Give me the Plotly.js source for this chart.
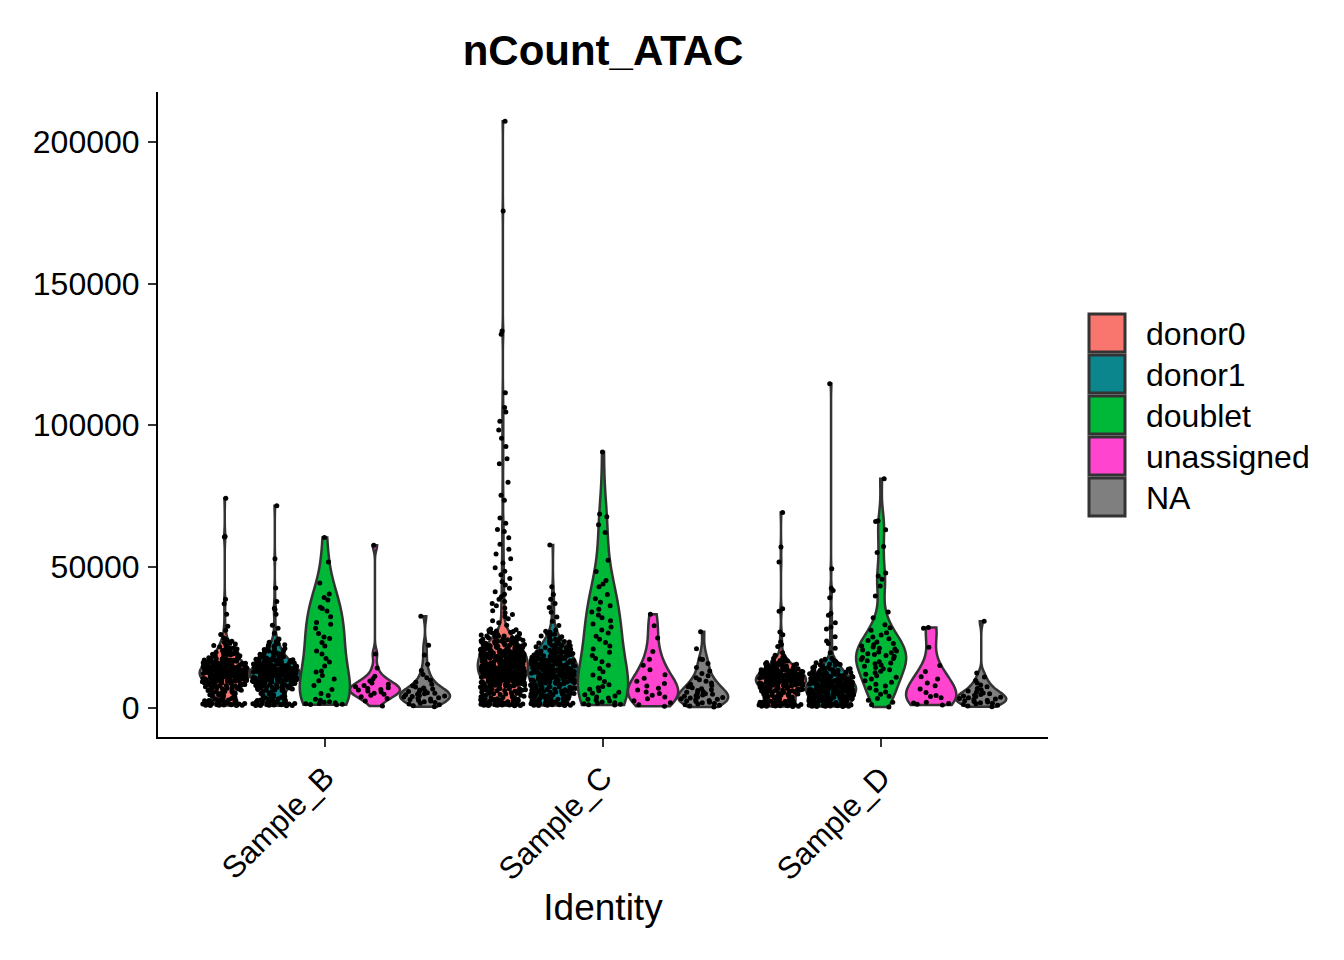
<!DOCTYPE html>
<html>
<head>
<meta charset="utf-8">
<script src="https://cdn.plot.ly/plotly-3.0.1.min.js"></script>
<style>html,body{margin:0;padding:0;background:#fff;}#chart{width:1344px;height:960px;}</style>
</head>
<body>
<div id="chart"></div>
<script>
// ---------- DATA (nCount_ATAC per cell) ----------
const samples = ["Sample_B", "Sample_C", "Sample_D"];
const groups = ["donor0", "donor1", "doublet", "unassigned", "NA"];
const yTicks = [0, 50000, 100000, 150000, 200000];

const donor0_B = [860,940,1020,1130,1190,1310,1420,1480,1590,1730,1810,1960,2080,2240,2370,2590,2780,2930,
3170,3560,3840,4210,4530,4760,5090,5380,5720,
6040,6280,6610,6830,7090,7240,7510,7780,7930,8160,8420,8570,8810,
9030,9170,9340,9480,9620,9710,9890,10040,10180,10330,10470,10590,10720,10860,10990,11130,11270,11380,11520,11640,11790,11920,
12060,12190,12270,12410,12560,12680,12790,12930,13070,13160,13290,13420,13580,13690,13810,13970,14080,14230,14360,14510,14670,14820,14940,
15130,15290,15470,15620,15780,15910,16120,16340,16490,16710,16880,17060,17290,17530,17810,
18120,18470,18830,19160,19540,19890,20310,20760,
21330,21980,22610,23270,23940,24720,
26010,27480,28930,33120,36860,38470,60410,60620,74150,
880,970,1060,1240,1370,1550,1680,1890,2150,2460,2690,
3390,4020,4650,5230,5560,
6160,6470,6950,7370,7640,8030,8290,8690,8940,
9090,9260,9410,9570,9680,9820,9970,10110,10250,10390,10530,10640,10790,10930,11070,11190,11330,11460,11580,11710,11860,
12120,12330,12480,12610,12740,12870,13010,13120,13240,13370,13510,13630,13760,13890,14020,14170,14290,14430,14590,14730,14880,
15060,15210,15380,15540,15690,15840,16030,16240,16410,16620,16790,16980,17170,17410,17670,17920,
18280,18650,19010,19370,19720,20090,20540,20880,
21620,22280,22950,23620,24310,
950,1270,1640,2010,2520,2850,4380,5810,6380,6720,7160,7460,7850,8350,8760,9120,9380,9530,9760,9930,
10070,10290,10440,10680,10820,11030,11220,11410,11560,11750,11970,12150,12360,12530,12710,12960,13190,13330,13470,13740,
13930,14110,14390,14540,14790,15010,15330,15590,15960,16280,16560,16930,17380,17740,18390,19080,19630,20470,21140,22070];
const donor0_C = [830,920,1010,1090,1170,1260,1340,1430,1520,1610,1720,1830,1950,2070,2190,2320,2460,2610,2780,2940,
3120,3370,3610,3890,4130,4390,4640,4920,5180,5430,5670,5910,
6080,6270,6460,6650,6820,7010,7230,7410,7590,7780,7960,8140,8330,8510,8690,8870,
9030,9110,9290,9370,9540,9580,9770,9910,9960,10140,10220,10410,10470,10660,10790,10830,11020,11090,11270,11410,11480,11650,11790,11930,
12040,12110,12230,12340,12390,12520,12610,12740,12800,12950,13030,13140,13260,13310,13470,13520,13660,13790,13840,13970,14060,14150,14290,14330,14460,14580,14640,14770,14850,14980,
15020,15140,15210,15360,15430,15570,15620,15740,15860,15930,16080,16150,16270,16390,16440,16580,16690,16730,16870,16960,17050,17180,17240,17370,17490,17560,17680,17750,17890,17940,
18070,18190,18260,18380,18510,18620,18740,18830,18970,19080,19140,19290,19410,19520,19630,19760,19880,19950,20110,20230,20340,20480,20570,20690,20810,20930,
21080,21260,21390,21570,21720,21860,22040,22190,22350,22520,22710,22880,23060,23240,23410,23590,23780,23920,
24130,24410,24690,24980,25320,25640,25970,26310,26680,27050,27460,27890,
29200,30100,30800,31500,32300,33000,33700,34400,35300,36100,36900,37600,38400,39300,40200,41100,42300,43500,44600,45800,
47100,48300,49600,51200,52700,54400,56100,57900,60200,62400,63100,65300,67100,73400,75200,79800,86300,88100,92400,95300,
98200,101300,104600,106200,111400,132100,133200,175600,207300,
860,960,1050,1130,1210,1300,1390,1480,1570,1660,1780,1890,2010,2130,2250,2390,2530,2690,2860,
3250,3490,3750,4010,4260,4510,4780,5050,5300,5550,5790,
6170,6360,6560,6740,6910,7120,7320,7500,7690,7870,8050,8240,8420,8600,8780,8950,
9080,9200,9330,9450,9600,9690,9840,9940,10070,10180,10310,10440,10560,10710,10870,10950,11060,11190,11340,11450,11570,11720,11860,11970,
12080,12180,12290,12440,12570,12670,12780,12880,13000,13090,13200,13370,13420,13580,13710,13890,14010,14110,14240,14390,14510,14690,14810,14920,
15080,15180,15290,15400,15510,15680,15790,15890,16020,16110,16220,16340,16490,16620,16780,16910,17010,17120,17290,17420,17620,17710,17820,17980,
18130,18230,18330,18450,18570,18690,18790,18900,19030,19190,19350,19470,19580,19700,19820,20050,20170,20290,20410,20530,20750,20870,
21170,21330,21480,21650,21790,21950,22110,22270,22440,22620,22800,22970,23150,23330,23500,23690,23850,
24270,24550,24840,25150,25480,25810,26140,26490,26860,27250,27680,
1000,1350,1750,2100,2580,2980,6510,7270,7830,8390,8820,9160,9480,9710,9930,10260,10530,10740,10980,11240,
11530,11810,12050,12320,12590,12860,13110,13380,13640,13920,14180,14420,14710,14940,15230,15460,15720,15980,16240,16510,
16760,17030,17310,17580,17860,18110,18420,18680,18950,19270,19540,19810,20090,20380,20640,20960,21410,21880,22330,22910,
23460,24050,24720,25460,26250];
const donor0_D = [540,610,720,830,950,1040,1160,1290,1380,1510,1640,1780,1920,2060,2230,2410,
2680,2950,3270,3540,3860,4170,4420,4690,4930,
5080,5270,5410,5630,5820,5990,6170,6360,6540,6710,6930,7080,7260,7440,7630,7870,
8020,8140,8270,8390,8510,8640,8760,8880,9010,9130,9260,9380,9510,9630,9760,9880,10010,10140,10270,10390,10520,10640,10770,10910,
11040,11190,11330,11480,11620,11770,11910,12060,12210,12370,12520,12680,12840,13010,13190,13370,13560,13780,
14020,14290,14570,14860,15160,15470,15790,16120,16460,16810,
17230,17890,18620,19480,
21760,22410,23290,25870,26830,34160,35090,51620,56910,69040,
580,660,770,890,1000,1100,1220,1330,1450,1570,1710,1850,1990,2150,2320,
2810,3110,3400,3700,4020,4300,4560,4810,
5180,5340,5520,5730,5910,6080,6270,6450,6630,6820,7010,7170,7350,7540,7750,7950,
8080,8210,8330,8450,8580,8700,8820,8950,9070,9190,9320,9450,9570,9700,9820,9950,10080,10210,10330,10460,10580,10710,10840,10970,
11110,11260,11400,11550,11700,11840,11990,12140,12290,12450,12600,12760,12930,13100,13280,13470,13670,13890,
14150,14430,14720,15010,15310,15630,15960,16290,16640,
17560,18250,
690,1080,1470,1880,2290,3580,5460,6010,6520,6980,7420,7820,8160,8420,8660,8910,9160,9410,9660,9910,
10160,10410,10660,10900,11170,11430,11690,11960,12250,12530,12820,13140,13490,13860,14340,14950,15640,16390];

const donor1_B = [820,910,1060,1140,1270,1350,1460,1620,1700,1880,2010,2150,2330,2460,2690,2870,
3240,3490,3910,4280,4620,4970,5330,5690,
6120,6390,6570,6920,7180,7420,7660,7850,8090,8380,8640,8920,
9110,9260,9420,9570,9730,9860,10020,10160,10290,10440,10610,10750,10880,11030,11190,11320,11470,11610,11760,11880,
12030,12160,12320,12450,12590,12740,12860,13010,13140,13280,13430,13570,13720,13850,14010,14170,14320,14480,14650,14830,
15040,15260,15480,15690,15880,16090,16310,16570,16820,17110,17430,17760,
18090,18540,18960,19420,19870,20380,20910,
21470,22150,22830,23560,24380,
26380,28140,29270,33090,34780,35210,37640,42380,52760,71480,
860,990,1100,1210,1410,1530,1780,1940,2240,2570,2780,
3360,3780,4450,5120,5510,
6260,6740,7050,7310,7560,7980,8240,8510,8780,
9180,9340,9490,9650,9790,9940,10090,10230,10370,10520,10680,10810,10960,11110,11250,11390,11540,11690,11820,11950,
12090,12240,12380,12520,12670,12800,12940,13070,13210,13360,13500,13640,13790,13930,14090,14250,14400,14560,14740,14910,
15150,15370,15590,15780,15990,16200,16440,16690,16960,17270,17590,17880,
18310,18750,19190,19650,20120,20640,
21810,22490,23190,24010,
890,1180,1560,1990,2380,2790,4130,5870,6460,6830,7240,7520,7930,8310,8720,9060,9310,9510,9700,9890,
10060,10330,10490,10720,10910,11080,11280,11440,11650,11840,12070,12280,12410,12620,12830,13050,13230,13470,13680,13880,
14060,14280,14510,14700,14960,15210,15520,15830,16140,16480,16750,17040,17350,17690,18420,18880,19550,20210,21020,22360];
const donor1_C = [870,940,1080,1190,1340,1460,1610,1730,1890,2040,2190,2380,2590,2820,
3060,3270,3510,3680,3920,4170,4340,4610,4820,5090,5270,5530,5810,
6040,6290,6480,6760,6930,7210,7440,7630,7910,8140,8370,8590,8860,
9040,9210,9370,9520,9690,9840,10030,10170,10360,10490,10680,10830,11010,11170,11320,11480,11690,11860,
12020,12180,12310,12490,12630,12790,12940,13080,13250,13410,13560,13720,13870,14030,14190,14340,14520,14680,14870,
15030,15210,15380,15560,15720,15910,16080,16260,16430,16620,16790,16980,17160,17340,17520,17710,17890,
18090,18310,18540,18760,18990,19230,19470,19690,19940,20180,20430,20670,20920,
21240,21610,21980,22390,22760,23140,23530,23880,
24310,24870,25460,26080,26740,27520,
29140,30610,32180,33820,35470,36930,38420,40120,42870,57610,
910,1010,1130,1270,1400,1540,1670,1810,1960,2110,2290,2480,2700,
3160,3390,3590,3800,4050,4260,4480,4720,4950,5180,5400,5670,5880,
6170,6390,6620,6850,7080,7330,7540,7780,8030,8260,8480,8730,8940,
9130,9290,9450,9610,9770,9930,10100,10270,10430,10590,10760,10920,11090,11250,11400,11580,11770,11930,
12100,12250,12400,12560,12710,12870,13010,13170,13330,13490,13640,13800,13950,14110,14270,14430,14600,14780,14950,
15120,15300,15470,15640,15810,16000,16170,16350,16520,16710,16890,17070,17250,17430,17620,17800,17960,
18200,18430,18650,18880,19110,19350,19580,19810,20060,20310,20550,20800,
21430,21800,22190,22580,22950,23340,23710,
24590,25170,25770,26410,27130,
980,1360,1700,2080,2520,2960,3720,4410,5210,5970,6580,7130,7690,8310,8810,9250,9640,10060,10380,10720,
11060,11420,11740,12070,12410,12740,13110,13470,13830,14200,14560,14910,15280,15640,16010,16390,16760,17140,17560,17930,
18380,18820,19290,19760,20250,20740,21360,22080,22870,23910];
const donor1_D = [510,590,680,770,860,960,1050,1150,1240,1350,1460,1570,1690,1810,1940,2070,2210,2370,
2560,2740,2910,3090,3260,3440,3620,3790,3970,4140,4320,4490,4670,4860,
5030,5150,5270,5390,5510,5630,5760,5880,6010,6130,6260,6380,6510,6640,6770,6890,7020,7150,7280,7410,7540,7660,7790,7920,
8060,8210,8350,8490,8640,8790,8940,9090,9240,9390,9550,9710,9860,10020,10180,10340,10500,10660,10830,10990,
11170,11390,11610,11830,12060,12290,12520,12760,13010,13260,13520,13780,13970,
14280,14690,15110,15540,15980,16430,16890,17560,
19540,21080,22790,23640,25170,27920,28630,30140,32810,33390,38930,41560,42310,49240,114620,
550,630,720,810,910,1000,1100,1190,1300,1400,1510,1630,1750,1870,2000,2140,2290,2450,
2650,2820,3000,3170,3350,3530,3700,3880,4050,4230,4400,4580,4760,4950,
5090,5210,5330,5450,5570,5700,5820,5940,6070,6190,6320,6440,6570,6700,6830,6950,7080,7210,7340,7470,7600,7720,7850,7980,
8130,8280,8420,8570,8710,8860,9010,9160,9310,9470,9630,9780,9940,10100,10260,10420,10580,10740,10910,
11280,11500,11720,11940,12170,12400,12640,12880,13130,13390,13650,13880,
14480,14900,15320,15760,16200,16660,17220,
600,880,1160,1430,1720,2030,2390,2870,3310,3780,4210,4640,5060,5360,5640,5910,6170,6430,6690,6940,
7200,7460,7720,7990,8330,8670,9020,9380,9740,10120,10530,10960,11460,12020,12630,13340,14210,15390];

const doublet_B = [1180,1260,1350,1480,1620,1890,2050,2240,2710,3080,4460,5120,6540,7980,9620,10230,11470,12710,13090,14880,16240,17530,19060,
20120,21940,23180,24520,25070,26310,28160,29620,30180,32240,34270,35120,35640,38190,39040,40260,44180,51630,60270];
const doublet_C = [1050,1180,1320,1460,1680,1890,2150,2470,2830,3120,3560,3890,4240,4660,5170,5540,6090,6620,7120,7640,8260,9380,10470,11690,12830,13960,15120,16340,17480,18590,19710,
20830,21940,23160,24270,25340,26480,27590,28630,29720,30840,31890,32860,33920,34870,36120,37380,38640,40110,42810,43820,
45040,48260,52170,62040,64720,67540,68510,90480];
const doublet_D = [380,1120,2040,2760,3390,4150,4880,5620,6310,7040,7750,8360,9120,9640,10270,10830,11390,11910,12480,12960,
13540,13880,14350,14790,15160,15620,15940,16380,16710,17150,17490,17820,18160,18540,18870,19190,19480,19830,20150,20470,
20820,21140,21560,21930,22380,22810,23290,23870,24460,25120,25830,26590,27480,28390,29420,31870,33940,39580,43120,45510,
46640,47730,54960,57110,62980,65940,66210,81020];

const unassigned_B = [720,2460,3380,3940,4510,4870,5240,5630,5980,6320,6540,6890,7160,7480,7930,8410,8870,9560,10380,11240,14120,19040,57540];
const unassigned_C = [620,1180,1870,2560,3240,3920,4480,5130,5690,6340,7020,7810,8640,9430,10520,11760,13480,15120,17260,19980,24730,29060,33140];
const unassigned_D = [1020,1340,1560,1810,2070,3640,4060,4380,5520,6710,7830,8830,10220,11040,12870,15030,21470,28180,28420];

const na_B = [420,780,1150,1390,1680,1940,2210,2470,2690,2960,3180,3420,3650,3870,4090,4280,4460,4650,4830,5040,
5220,5410,5630,5870,6120,6380,6690,7030,7420,7860,8390,9070,9840,10710,11840,13260,15480,18690,22130,32460];
const na_C = [380,690,940,1170,1390,1620,1830,2040,2260,2450,2670,2880,3090,3280,3490,3710,3920,4140,4370,4590,
4830,5060,5310,5580,5860,6140,6450,6780,7140,7520,7930,8390,8870,9410,9990,10650,11380,12170,13060,14280,
15740,17120,17340,20960,26980];
const na_D = [410,720,980,1240,1460,1690,1880,2110,2340,2530,2760,2980,3170,3390,3580,3810,4020,4260,4490,4730,
5010,5320,5680,6040,6470,6930,7480,8120,8860,9710,10980,12340,30620];

// ---------- STYLE ----------
const fillColors = ["#F8766D", "#0B868C", "#00B838", "#FF45CF", "#7F7F7F"];
const FONT = "Liberation Sans, Arial, Helvetica, sans-serif";

const seriesData = [
  [donor0_B, donor0_C, donor0_D],
  [donor1_B, donor1_C, donor1_D],
  [doublet_B, doublet_C, doublet_D],
  [unassigned_B, unassigned_C, unassigned_D],
  [na_B, na_C, na_D]
];

// one violin per (group, sample) so every violin is scaled to full width on its own (ggplot scale = "width")
const traces = [];
groups.forEach((g, gi) => {
  seriesData[gi].forEach((arr, si) => {
    traces.push({
      type: "violin", name: g, legendgroup: g,
      x: arr.map(() => samples[si]), y: arr,
      alignmentgroup: "all", offsetgroup: g, scalegroup: g + "_" + si,
      fillcolor: fillColors[gi], opacity: 1,
      line: { color: "#333333", width: 2.5 },
      points: "all", pointpos: 0, jitter: 0.9,
      marker: { color: "#000000", size: 5, line: { width: 0 } },
      spanmode: "hard", scalemode: "width",
      box: { visible: false }, meanline: { visible: false },
      showlegend: false, hoverinfo: "skip"
    });
  });
});

// plot area in pixels: x 158..1048, y 92..737
const L = 158, R = 1048, T = 92, B = 737;
const px = v => (v - L) / (R - L);
const py = v => (B - v) / (B - T);

const shapes = [], annotations = [];
groups.forEach((g, i) => {
  const top = 314 + i * 41;
  shapes.push({ type: "rect", xref: "paper", yref: "paper",
    x0: px(1089), x1: px(1125), y0: py(top + 38), y1: py(top),
    fillcolor: fillColors[i], line: { color: "#333333", width: 3 } });
  annotations.push({ xref: "paper", yref: "paper", x: px(1144), y: py(top + 20),
    xanchor: "left", yanchor: "middle", showarrow: false, text: g,
    font: { family: FONT, size: 32, color: "#000" } });
});

const layout = {
  width: 1344, height: 960,
  paper_bgcolor: "#ffffff", plot_bgcolor: "#ffffff",
  margin: { l: L, r: 1344 - R, t: T, b: 960 - B, pad: 0 },
  font: { family: FONT, color: "#000" },
  title: { text: "<b>nCount_ATAC</b>", font: { family: FONT, size: 42, color: "#000" },
    x: 0.5, xref: "paper", xanchor: "center", y: 1 - 50 / 960, yref: "container", yanchor: "middle" },
  violinmode: "group", violingap: 0.1, violingroupgap: 0,
  xaxis: {
    type: "category", categoryorder: "array", categoryarray: samples,
    range: [-0.6, 2.6], showgrid: false, zeroline: false,
    showline: true, linecolor: "#000", linewidth: 2,
    ticks: "outside", ticklen: 8, tickwidth: 2, tickcolor: "#333",
    tickangle: -45, tickfont: { family: FONT, size: 31, color: "#000" },
    title: { text: "Identity", font: { family: FONT, size: 37, color: "#000" }, standoff: 8 }
  },
  yaxis: {
    range: [-10247, 217668], showgrid: false, zeroline: false,
    showline: true, linecolor: "#000", linewidth: 2,
    ticks: "outside", ticklen: 8, tickwidth: 2, tickcolor: "#333",
    tickvals: yTicks, ticktext: yTicks.map(String), ticklabelstandoff: 2,
    tickfont: { family: FONT, size: 32, color: "#000" }
  },
  shapes: shapes, annotations: annotations
};

Plotly.newPlot("chart", traces, layout, { displayModeBar: false, staticPlot: true });
</script>
</body>
</html>
